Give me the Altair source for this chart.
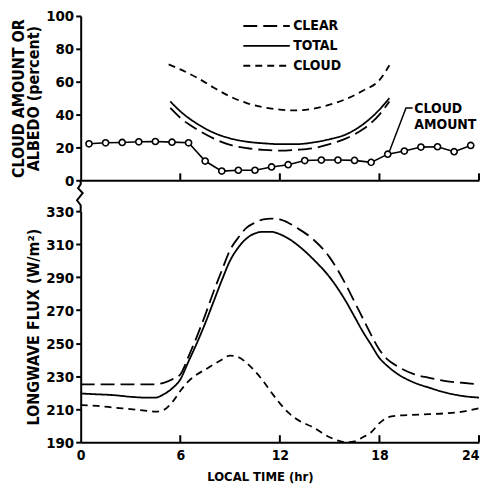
import altair as alt
import pandas as pd

FONT = "Liberation Sans Narrow, DejaVu Sans Condensed, sans-serif"

# ---- top panel: albedo curves (percent) ----
series_names = ["CLEAR", "TOTAL", "CLOUD"]
series_dash = [[14, 6], [1, 0], [7, 5]]

alb_hours = [5.4, 6, 7, 8, 9, 10, 11, 12, 13, 14, 15, 16, 17, 18, 18.6]
clear_alb = [44, 38, 31, 25.5, 21.5, 19.5, 18.5, 18, 18.5, 19.5, 22, 25.5, 31, 40, 48]
total_alb = [48, 42, 34.5, 29, 25.5, 23.5, 22.5, 22, 22, 23, 25, 28, 34, 43, 50]
cloud_alb_hours = [5.3, 6, 7, 8, 9, 10, 11, 12, 13, 14, 15, 16, 17, 18, 18.6]
cloud_alb = [70.5, 67.5, 62.5, 56.5, 51, 47, 44.5, 43, 42.5, 43.5, 46, 49.5, 54.5, 61, 70]

# cloud amount (percent), hourly means
ca_hours = [0.5, 1.5, 2.5, 3.5, 4.5, 5.5, 6.5, 7.5, 8.5, 9.5, 10.5, 11.5,
            12.5, 13.5, 14.5, 15.5, 16.5, 17.5, 18.5, 19.5, 20.5, 21.5, 22.5, 23.5]
ca_values = [22.2, 22.8, 23.0, 23.4, 23.6, 23.2, 22.8, 11.7, 5.6, 6.1, 6.1, 8.1,
             9.5, 12.0, 12.3, 12.3, 12.1, 10.9, 15.9, 17.8, 20.2, 20.4, 17.4, 21.2]

# annotation "CLOUD AMOUNT" and its leader line
ann_t = [20.1]
ann_v = [47.5]
ann_text = ["CLOUD\nAMOUNT"]
lead_t = [20.0, 19.6, 18.6]
lead_v = [44.0, 44.0, 17.5]

# legend key (placed inside the top panel)
key_t0 = [9.8, 9.8, 9.8]
key_t1 = [12.6, 12.6, 12.6]
key_v = [93.9, 81.8, 69.7]
key_label_t = [12.8, 12.8, 12.8]

# ---- bottom panel: longwave flux (W/m2) ----
lw_hours = [0, 1, 2, 3, 4, 4.5, 5, 5.5, 6, 6.5, 7, 7.5, 8, 8.5, 9, 9.5, 10, 10.5,
            11, 11.5, 12, 12.5, 13, 14, 15, 16, 16.5, 17, 17.5, 18, 18.5, 19, 20, 21, 22, 23, 24]
clear_lw = [225, 225, 225, 225, 225, 225, 226, 228, 231, 242, 254, 267, 281, 294, 306.5, 314, 320, 323,
            325, 325.5, 325, 323, 320, 313, 302, 285, 275, 265, 255, 246, 240, 236.5, 231.5, 229, 227, 226, 225]
total_lw = [219.5, 219, 218.5, 217.5, 217, 217, 219, 222.5, 228, 239, 250, 262, 275, 288, 300, 308, 313.5, 316.5,
            317.5, 317.5, 316, 313.5, 310, 301, 290, 275, 266, 257, 249, 241, 236, 232, 226.5, 223, 220, 218, 217]
cloud_lw = [212.5, 212, 211, 210, 209, 208.5, 209.5, 214, 221, 227, 231, 234, 237, 240, 242.5, 241.5, 238, 233,
            227, 220, 213.5, 208, 204, 199, 193, 190, 190.5, 193, 196, 201.5, 205, 206, 206.5, 207, 207.5, 208.5, 210.5]

x_ticks = [0, 6, 12, 18, 24]
inner_ticks = [6, 12, 18, 24]
alb_ticks = [0, 20, 40, 60, 80, 100]
lw_ticks = [190, 210, 230, 250, 270, 290, 310, 330]

# axis break squiggle between panels (bottom panel data units)
break_t = [0, 0, -0.16, 0.12, -0.22, 0, 0]
break_v = [348.5, 346.3, 343.9, 341.0, 336.6, 333.6, 330]

W = 400
H1 = 165
H2 = 232

# ---- tables ----
alb_rows = []
for n, (ts, vs) in zip(series_names, [(alb_hours, clear_alb), (alb_hours, total_alb), (cloud_alb_hours, cloud_alb)]):
    for i, (t, v) in enumerate(zip(ts, vs)):
        alb_rows.append({"t": t, "v": v, "series": n, "i": i})
alb_df = pd.DataFrame(alb_rows)

lw_rows = []
for n, vs in zip(series_names, [clear_lw, total_lw, cloud_lw]):
    for i, (t, v) in enumerate(zip(lw_hours, vs)):
        lw_rows.append({"t": t, "v": v, "series": n, "i": i})
lw_df = pd.DataFrame(lw_rows)

ca_df = pd.DataFrame({"t": ca_hours, "v": ca_values})
ann_df = pd.DataFrame({"t": ann_t, "v": ann_v, "label": ann_text})
lead_df = pd.DataFrame({"t": lead_t, "v": lead_v, "i": list(range(len(lead_t)))})
tick_df = pd.DataFrame({"t": inner_ticks})
break_df = pd.DataFrame({"t": break_t, "v": break_v, "i": list(range(len(break_t)))})
key_df = pd.DataFrame({"series": series_names, "t0": key_t0, "t1": key_t1, "v": key_v, "lt": key_label_t})

x_scale = alt.Scale(domain=[0, 24], nice=False, zero=False)
dash_scale = alt.Scale(domain=series_names, range=series_dash)

# ---- top panel ----
top_y = alt.Y("v:Q", scale=alt.Scale(domain=[0, 100], nice=False),
              axis=alt.Axis(values=alb_ticks, tickCount=len(alb_ticks), labelOverlap=False,
                            title=["CLOUD AMOUNT OR", "ALBEDO (percent)"],
                            titleLineHeight=15, titlePadding=4, labelPadding=2))
top_x = alt.X("t:Q", scale=x_scale,
              axis=alt.Axis(labels=False, ticks=False, title=None))

alb_lines = alt.Chart(alb_df).mark_line(color="black", strokeWidth=1.8, interpolate="monotone").encode(
    x=top_x,
    y=top_y,
    strokeDash=alt.StrokeDash("series:N", scale=dash_scale, legend=None),
    detail="series:N",
    order="i:Q",
)

key_lines = alt.Chart(key_df).mark_rule(color="black", strokeWidth=1.8).encode(
    x="t0:Q", x2="t1:Q", y="v:Q",
    strokeDash=alt.StrokeDash("series:N", scale=dash_scale, legend=None))
key_text = alt.Chart(key_df).mark_text(align="left", baseline="middle", font=FONT, fontSize=14,
                                       fontWeight="bold", color="black").encode(
    x="lt:Q", y="v:Q", text="series:N")

ca_line = alt.Chart(ca_df).mark_line(color="black", strokeWidth=1.6).encode(x="t:Q", y="v:Q")
ca_pts = alt.Chart(ca_df).mark_point(shape="circle", filled=True, fill="white", stroke="black",
                                     strokeWidth=1.6, size=38, opacity=1).encode(x="t:Q", y="v:Q")
ann = alt.Chart(ann_df).mark_text(align="left", baseline="top", lineBreak="\n", font=FONT,
                                  fontSize=14, fontWeight="bold", lineHeight=16, color="black").encode(
    x="t:Q", y="v:Q", text="label:N")
lead = alt.Chart(lead_df).mark_line(color="black", strokeWidth=1.5).encode(x="t:Q", y="v:Q", order="i:Q")
top_ticks = alt.Chart(tick_df).mark_rule(color="black", strokeWidth=2).encode(
    x="t:Q", y=alt.value(H1), y2=alt.value(H1 - 7))

top = alt.layer(alb_lines, key_lines, key_text, ca_line, ca_pts, lead, ann, top_ticks).properties(
    width=W, height=H1)

# ---- bottom panel ----
bot_x = alt.X("t:Q", scale=x_scale,
              axis=alt.Axis(values=x_ticks, tickCount=len(x_ticks), ticks=False, labelPadding=6,
                            labelFontSize=14, labelFlush=False, labelOverlap=False,
                            labelAlign=alt.ExprRef(expr="datum.value == 24 ? 'right' : 'center'"),
                            title="LOCAL TIME (hr)", titleFontSize=13,
                            titlePadding=8, titleX=180, titleAlign="center", titleAnchor="start"))
bot_y = alt.Y("v:Q", scale=alt.Scale(domain=[190, 330], nice=False, zero=False),
              axis=alt.Axis(values=lw_ticks, tickCount=len(lw_ticks), labelOverlap=False,
                            title="LONGWAVE FLUX (W/m\u00b2)", titlePadding=4, labelPadding=2))

lw_lines = alt.Chart(lw_df).mark_line(color="black", strokeWidth=1.8, interpolate="monotone").encode(
    x=bot_x,
    y=bot_y,
    strokeDash=alt.StrokeDash("series:N", scale=dash_scale, legend=None),
    detail="series:N",
    order="i:Q",
)
bot_ticks = alt.Chart(tick_df).mark_rule(color="black", strokeWidth=2).encode(
    x="t:Q", y=alt.value(H2), y2=alt.value(H2 - 7))
squiggle = alt.Chart(break_df).mark_line(color="black", strokeWidth=2, clip=False).encode(
    x="t:Q", y="v:Q", order="i:Q")

bottom = alt.layer(lw_lines, bot_ticks, squiggle).properties(width=W, height=H2)

chart = alt.vconcat(top, bottom, spacing=31, bounds="flush").properties(
    padding={"left": 2, "top": 0, "right": 0, "bottom": 0},
    background="white",
).configure_view(stroke=None).configure_axis(
    grid=False,
    domainColor="black", domainWidth=2,
    tickColor="black", tickWidth=2, tickSize=5,
    labelOverlap=False,
    labelFont=FONT, labelFontSize=15, labelFontWeight="bold", labelColor="black",
    titleFont=FONT, titleFontSize=16, titleFontWeight="bold", titleColor="black",
)

chart.save("out.html", embed_options={"renderer": "svg", "actions": False})
